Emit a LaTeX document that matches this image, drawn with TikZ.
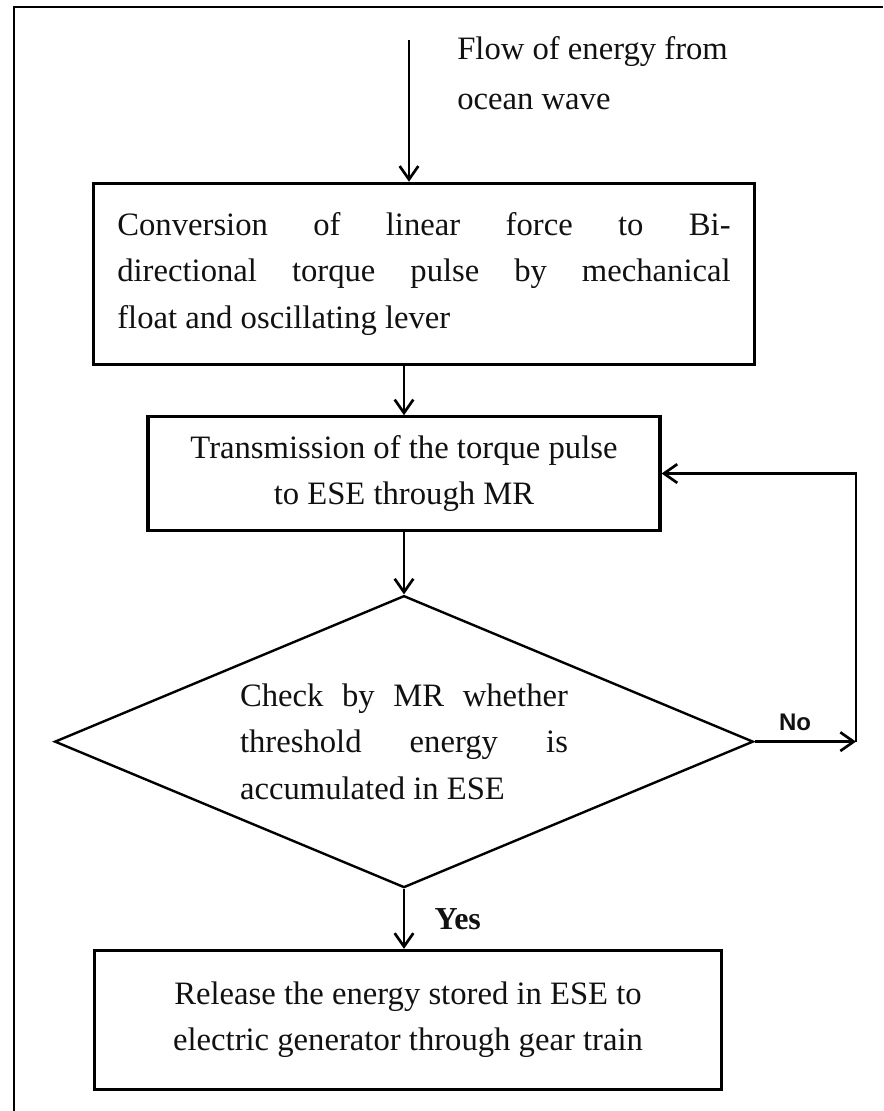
\documentclass[tikz,border=0pt]{standalone}
\usepackage{fontspec}
\setmainfont{Liberation Serif}
\newfontfamily\flowsans{Liberation Sans}
\usetikzlibrary{arrows.meta,positioning,shapes.geometric}
\definecolor{flowInk}{HTML}{111111}
\tikzset{
  flowbox/.style={rectangle,draw=black,line width=2.4pt,text=flowInk,inner sep=0pt,
    font=\fontsize{24.5}{35}\selectfont},
  flowdecision/.style={diamond,aspect=2.4,draw=black,line width=1.8pt,text=flowInk,inner sep=0pt,
    minimum width=524pt,minimum height=219pt,text width=246pt,align=justify,
    font=\fontsize{24.5}{35}\selectfont},
  flowtext/.style={text=flowInk,inner sep=0pt,align=left,font=\fontsize{24.5}{37.5}\selectfont},
  flowlabel/.style={text=flowInk,inner sep=0pt},
  arrow/.style={-{Straight Barb[length=10pt,width=14pt]},line width=2pt}
}

\begin{document}
\begin{tikzpicture}[x=0.75pt,y=-0.75pt]
  \useasboundingbox (0,0) rectangle (883,1111);
  \draw[line width=1.6pt] (14,1111) -- (14,7) -- (883,7);

  \node[flowtext,anchor=west] (source) at (457,73) {Flow of energy from\\ocean wave};
  \coordinate (start) at (409,40);
  \node[flowbox,minimum width=496pt,minimum height=136pt,text width=460pt,align=justify]
    (conv) at (424,274) {Conversion of linear force to Bi-\linebreak directional torque pulse by mechanical\linebreak float and oscillating lever};
  \node[flowbox,minimum width=384pt,minimum height=85pt,align=center]
    (trans) at (404,473.5) {Transmission of the torque pulse\\to ESE through MR};
  \node[flowdecision,below=47pt of trans] (check) {Check by MR whether\linebreak threshold energy is\linebreak accumulated in ESE};
  \node[flowbox,minimum width=470pt,minimum height=104pt,align=center,below=45pt of check,xshift=3pt]
    (release) {Release the energy stored in ESE to\\electric generator through gear train};
  \coordinate (rail) at (856,0);
  \coordinate (corner) at (check.east -| rail);

  \draw[arrow] (start) -- (start |- conv.north);
  \draw[arrow] (trans.north |- conv.south) -- (trans.north);
  \draw[arrow] (trans) -- (check);
  \draw[arrow] (check.south) -- node[flowlabel,right=22pt,font=\bfseries\fontsize{24}{26}\selectfont] {Yes} (check.south |- release.north);
  \draw[arrow] (check.east) -- node[flowlabel,above=7pt,pos=0.4,font=\flowsans\bfseries\fontsize{18}{20}\selectfont] {No} (corner);
  \draw[arrow] (corner) |- (trans.east);
\end{tikzpicture}
\end{document}
